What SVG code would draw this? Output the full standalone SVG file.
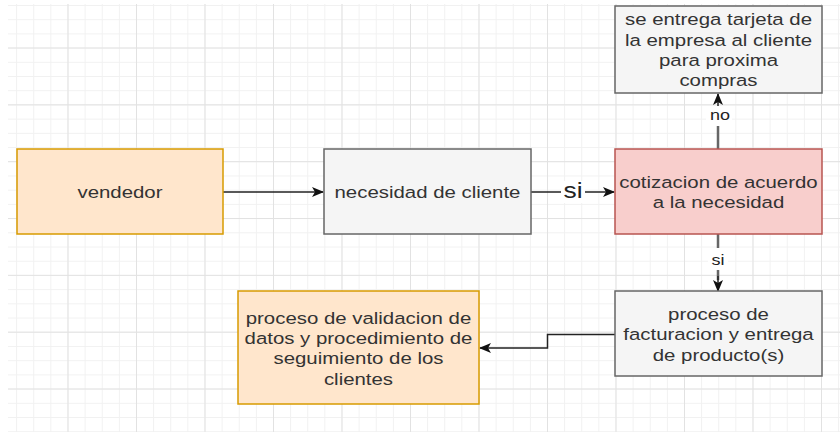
<svg xmlns="http://www.w3.org/2000/svg" width="840" height="432" viewBox="0 0 840 432">
  <defs>
    <pattern id="gridMinor" patternUnits="userSpaceOnUse" x="-1" y="5" width="17.125" height="14.208">
      <path d="M0.5 0 V14.208 M0 0.5 H17.125" fill="none" stroke="#f1f1f1" stroke-width="1"/>
    </pattern>
    <pattern id="gridMajor" patternUnits="userSpaceOnUse" x="67.5" y="47.5" width="68.5" height="56.833">
      <path d="M0.5 0 V56.833 M0 0.5 H68.5" fill="none" stroke="#e2e2e2" stroke-width="1"/>
    </pattern>
    <marker id="arrow" viewBox="0 0 12 10" refX="11" refY="5" markerWidth="12" markerHeight="10" markerUnits="userSpaceOnUse" orient="auto">
      <path d="M0 0 L12 5 L0 10 L3 5 Z" fill="#111"/>
    </marker>
  </defs>
  <style>
    .box { stroke-width: 1.5; }
    .orange { fill: #ffe6cc; stroke: #d79b00; }
    .gray { fill: #f5f5f5; stroke: #666666; }
    .red { fill: #f8cecc; stroke: #b85450; }
    .lbl { font-family: "Liberation Sans", Arial, Helvetica, sans-serif; font-size: 17px; fill: #333333; text-anchor: middle; }
    .edge { fill: none; stroke: #222; stroke-width: 1.5; }
    .vedge { fill: none; stroke: #666; stroke-width: 2.5; }
    .elbl { font-family: "Liberation Sans", Arial, Helvetica, sans-serif; fill: #222; text-anchor: middle; }
  </style>
  <rect width="840" height="432" fill="#ffffff"/>
  <rect x="8" y="4" width="832" height="428" fill="url(#gridMinor)"/>
  <rect x="8" y="4" width="832" height="428" fill="url(#gridMajor)"/>

  <g id="connectors">
    <path class="edge" d="M223 192 H323" marker-end="url(#arrow)"/>
    <path class="edge" d="M531 192 H614" marker-end="url(#arrow)"/>
    <rect x="561" y="181" width="24" height="22" fill="#fff"/>
    <text class="elbl" font-size="22" transform="scale(1.2 1)" x="477.5" y="198.5">si</text>
    <path class="vedge" d="M718 149 V106"/>
    <path class="edge" d="M718 110 V94" marker-end="url(#arrow)"/>
    <rect x="706" y="106" width="26" height="20" fill="#fff"/>
    <text class="elbl" font-size="15" transform="scale(1.2 1)" x="600" y="120">no</text>
    <path class="vedge" d="M718 234 V280"/>
    <path class="edge" d="M718 276 V291" marker-end="url(#arrow)"/>
    <rect x="708" y="248" width="20" height="22" fill="#fff"/>
    <text class="elbl" font-size="15" transform="scale(1.2 1)" x="598.3" y="265.5">si</text>
    <path class="edge" d="M615 334.5 H547.5 V348 H480" marker-end="url(#arrow)"/>
  </g>

  <g id="vendedor">
    <rect class="box orange" x="17" y="149" width="206" height="85"/>
    <text class="lbl" transform="scale(1.2 1)" x="100" y="198">vendedor</text>
  </g>

  <g id="necesidad">
    <rect class="box gray" x="324" y="149" width="207" height="85"/>
    <text class="lbl" transform="scale(1.2 1)" x="356.25" y="198">necesidad de cliente</text>
  </g>

  <g id="cotizacion">
    <rect class="box red" x="615" y="149" width="207" height="85"/>
    <text class="lbl" transform="scale(1.2 1)" x="598.75" y="188">cotizacion de acuerdo</text>
    <text class="lbl" transform="scale(1.2 1)" x="598.75" y="208.5">a la necesidad</text>
  </g>

  <g id="tarjeta">
    <rect class="box gray" x="615" y="6" width="207" height="87"/>
    <text class="lbl" transform="scale(1.2 1)" x="598.75" y="25.5">se entrega tarjeta de</text>
    <text class="lbl" transform="scale(1.2 1)" x="598.75" y="46">la empresa al cliente</text>
    <text class="lbl" transform="scale(1.2 1)" x="598.75" y="66.5">para proxima</text>
    <text class="lbl" transform="scale(1.2 1)" x="598.75" y="86.5">compras</text>
  </g>

  <g id="facturacion">
    <rect class="box gray" x="615" y="291" width="207" height="85"/>
    <text class="lbl" transform="scale(1.2 1)" x="598.75" y="320">proceso de</text>
    <text class="lbl" transform="scale(1.2 1)" x="598.75" y="340.5">facturacion y entrega</text>
    <text class="lbl" transform="scale(1.2 1)" x="598.75" y="361">de producto(s)</text>
  </g>

  <g id="validacion">
    <rect class="box orange" x="238" y="291" width="241" height="113"/>
    <text class="lbl" transform="scale(1.2 1)" x="298.75" y="324">proceso de validacion de</text>
    <text class="lbl" transform="scale(1.2 1)" x="298.75" y="344.5">datos y procedimiento de</text>
    <text class="lbl" transform="scale(1.2 1)" x="298.75" y="364.5">seguimiento de los</text>
    <text class="lbl" transform="scale(1.2 1)" x="298.75" y="385">clientes</text>
  </g>
</svg>
